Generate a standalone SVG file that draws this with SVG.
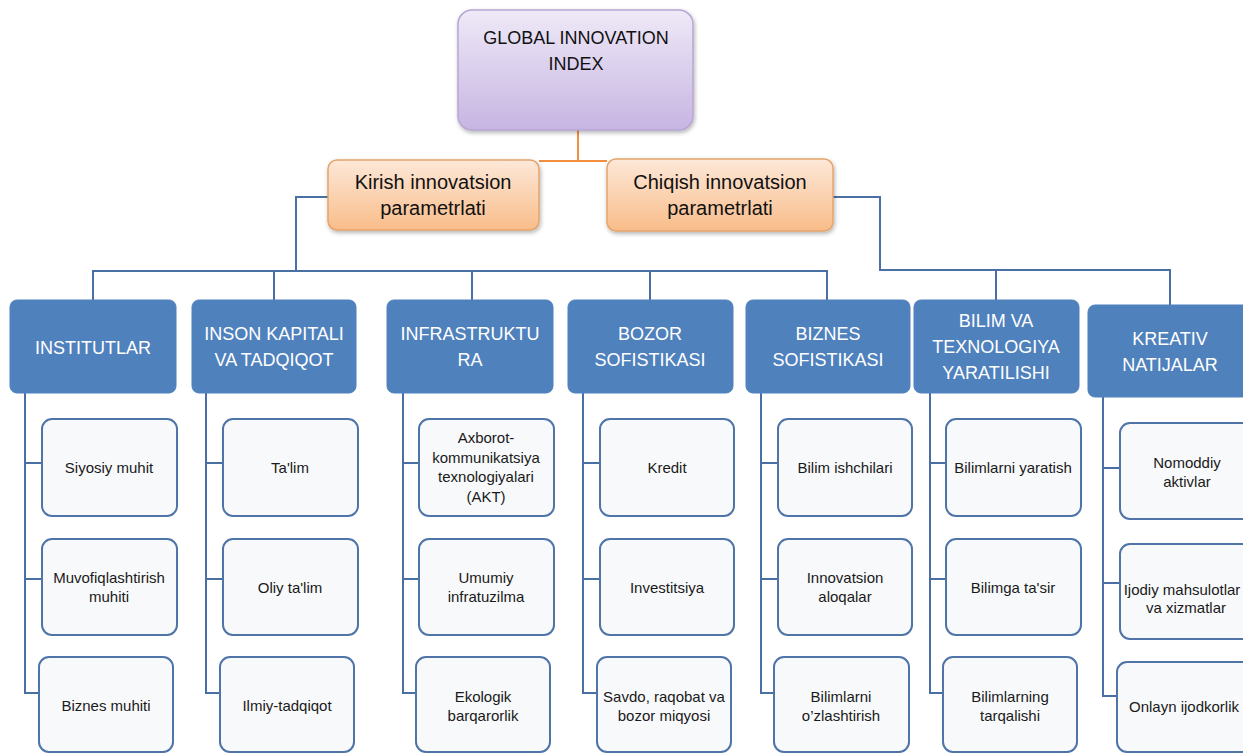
<svg xmlns="http://www.w3.org/2000/svg" width="1243" height="753" viewBox="0 0 1243 753">
<defs>
<linearGradient id="gPurple" x1="0" y1="0" x2="0" y2="1">
<stop offset="0" stop-color="#efe9f7"/>
<stop offset="1" stop-color="#c6b5e2"/>
</linearGradient>
<linearGradient id="gOrange" x1="0" y1="0" x2="0" y2="1">
<stop offset="0" stop-color="#fde8d8"/>
<stop offset="1" stop-color="#f9bd8a"/>
</linearGradient>
<filter id="sh" x="-10%" y="-10%" width="125%" height="130%">
<feDropShadow dx="1" dy="2" stdDeviation="2" flood-color="#000" flood-opacity="0.3"/>
</filter>
<style>
.top{fill:url(#gPurple);stroke:#b7a6d3;stroke-width:1.5;filter:url(#sh)}
.mid{fill:url(#gOrange);stroke:#e5a46d;stroke-width:1.5;filter:url(#sh)}
.hdr{fill:#4f81bd;stroke:#4f81bd;stroke-width:1}
.ch{fill:#f8f9fb;stroke:#4f74a8;stroke-width:2}
.t{font-family:"Liberation Sans",Arial,sans-serif;text-anchor:middle;fill:#111}
.t18{font-size:18px}
.t20{font-size:20px}
.th{font-family:"Liberation Sans",Arial,sans-serif;text-anchor:middle;fill:#fff;font-size:18px}
.tc{font-family:"Liberation Sans",Arial,sans-serif;text-anchor:middle;fill:#1a1a1a;font-size:15px}
.ln{fill:none;stroke:#4a6fa5;stroke-width:2}
.lo{fill:none;stroke:#f38d3f;stroke-width:2}
</style>
</defs>
<rect width="1243" height="753" fill="#fff"/>

<g id="connectors">
<polyline class="lo" points="578,130 578,161"/>
<polyline class="lo" points="539,161 607,161"/>
<polyline class="ln" points="328,197 296,197 296,271"/>
<polyline class="ln" points="93,300 93,271 827,271 827,300"/>
<polyline class="ln" points="274,271 274,300"/>
<polyline class="ln" points="472,271 472,300"/>
<polyline class="ln" points="650,271 650,300"/>
<polyline class="ln" points="833,197 880,197 880,270 1170,270 1170,305"/>
<polyline class="ln" points="996,270 996,300"/>
<polyline class="ln" points="25,393 25,693 39,693"/>
<polyline class="ln" points="25,463 42,463"/>
<polyline class="ln" points="25,579 42,579"/>
<polyline class="ln" points="206,393 206,693 220,693"/>
<polyline class="ln" points="206,463 223,463"/>
<polyline class="ln" points="206,579 223,579"/>
<polyline class="ln" points="403,393 403,693 416,693"/>
<polyline class="ln" points="403,463 419,463"/>
<polyline class="ln" points="403,579 419,579"/>
<polyline class="ln" points="583,393 583,693 597,693"/>
<polyline class="ln" points="583,463 600,463"/>
<polyline class="ln" points="583,579 600,579"/>
<polyline class="ln" points="761,393 761,693 774,693"/>
<polyline class="ln" points="761,463 778,463"/>
<polyline class="ln" points="761,579 778,579"/>
<polyline class="ln" points="930,393 930,693 943,693"/>
<polyline class="ln" points="930,463 946,463"/>
<polyline class="ln" points="930,579 946,579"/>
<polyline class="ln" points="1103,397 1103,696 1117,696"/>
<polyline class="ln" points="1103,468 1120,468"/>
<polyline class="ln" points="1103,583 1120,583"/>
</g>

<g id="gii">
<rect class="top" x="458" y="10" width="235" height="120" rx="14"/>
<text class="t t18" x="576" y="44">GLOBAL INNOVATION</text>
<text class="t t18" x="576" y="70">INDEX</text>
</g>
<g id="kirish">
<rect class="mid" x="328" y="160" width="211" height="70" rx="9"/>
<text class="t t20" x="433" y="189">Kirish innovatsion</text>
<text class="t t20" x="433" y="215">parametrlati</text>
</g>
<g id="chiqish">
<rect class="mid" x="607" y="159" width="226" height="72" rx="9"/>
<text class="t t20" x="720" y="189">Chiqish innovatsion</text>
<text class="t t20" x="720" y="215">parametrlati</text>
</g>

<g id="institutlar">
<rect class="hdr" x="10" y="300" width="166" height="93" rx="7"/>
<text class="th" x="93" y="354">INSTITUTLAR</text>
</g>
<g id="inson">
<rect class="hdr" x="192" y="300" width="164" height="93" rx="7"/>
<text class="th" x="274" y="340">INSON KAPITALI</text>
<text class="th" x="274" y="366">VA TADQIQOT</text>
</g>
<g id="infra">
<rect class="hdr" x="387" y="300" width="166" height="93" rx="7"/>
<text class="th" x="470" y="340">INFRASTRUKTU</text>
<text class="th" x="470" y="366">RA</text>
</g>
<g id="bozor">
<rect class="hdr" x="568" y="300" width="165" height="93" rx="7"/>
<text class="th" x="650" y="340">BOZOR</text>
<text class="th" x="650" y="366">SOFISTIKASI</text>
</g>
<g id="biznes">
<rect class="hdr" x="746" y="300" width="164" height="93" rx="7"/>
<text class="th" x="828" y="340">BIZNES</text>
<text class="th" x="828" y="366">SOFISTIKASI</text>
</g>
<g id="bilim">
<rect class="hdr" x="914" y="300" width="165" height="93" rx="7"/>
<text class="th" x="996" y="327">BILIM VA</text>
<text class="th" x="996" y="353">TEXNOLOGIYA</text>
<text class="th" x="996" y="379">YARATILISHI</text>
</g>
<g id="kreativ">
<rect class="hdr" x="1088" y="305" width="166" height="92" rx="7"/>
<text class="th" x="1170" y="345">KREATIV</text>
<text class="th" x="1170" y="371">NATIJALAR</text>
</g>

<g id="c1-1"><rect class="ch" x="42" y="419" width="135" height="97" rx="10"/><text class="tc" x="109" y="473">Siyosiy muhit</text></g>
<g id="c1-2"><rect class="ch" x="42" y="539" width="135" height="96" rx="10"/><text class="tc" x="109" y="583">Muvofiqlashtirish</text><text class="tc" x="109" y="602">muhiti</text></g>
<g id="c1-3"><rect class="ch" x="39" y="657" width="134" height="95" rx="10"/><text class="tc" x="106" y="711">Biznes muhiti</text></g>

<g id="c2-1"><rect class="ch" x="223" y="419" width="135" height="97" rx="10"/><text class="tc" x="290" y="473">Ta'lim</text></g>
<g id="c2-2"><rect class="ch" x="223" y="539" width="135" height="96" rx="10"/><text class="tc" x="290" y="593">Oliy ta'lim</text></g>
<g id="c2-3"><rect class="ch" x="220" y="657" width="134" height="95" rx="10"/><text class="tc" x="287" y="711">Ilmiy-tadqiqot</text></g>

<g id="c3-1"><rect class="ch" x="419" y="419" width="135" height="97" rx="10"/><text class="tc" x="486" y="443">Axborot-</text><text class="tc" x="486" y="463">kommunikatsiya</text><text class="tc" x="486" y="482">texnologiyalari</text><text class="tc" x="486" y="502">(AKT)</text></g>
<g id="c3-2"><rect class="ch" x="419" y="539" width="135" height="96" rx="10"/><text class="tc" x="486" y="583">Umumiy</text><text class="tc" x="486" y="602">infratuzilma</text></g>
<g id="c3-3"><rect class="ch" x="416" y="657" width="134" height="95" rx="10"/><text class="tc" x="483" y="702">Ekologik</text><text class="tc" x="483" y="721">barqarorlik</text></g>

<g id="c4-1"><rect class="ch" x="600" y="419" width="134" height="97" rx="10"/><text class="tc" x="667" y="473">Kredit</text></g>
<g id="c4-2"><rect class="ch" x="600" y="539" width="134" height="96" rx="10"/><text class="tc" x="667" y="593">Investitsiya</text></g>
<g id="c4-3"><rect class="ch" x="597" y="657" width="134" height="95" rx="10"/><text class="tc" x="664" y="702">Savdo, raqobat va</text><text class="tc" x="664" y="721">bozor miqyosi</text></g>

<g id="c5-1"><rect class="ch" x="778" y="419" width="134" height="97" rx="10"/><text class="tc" x="845" y="473">Bilim ishchilari</text></g>
<g id="c5-2"><rect class="ch" x="778" y="539" width="134" height="96" rx="10"/><text class="tc" x="845" y="583">Innovatsion</text><text class="tc" x="845" y="602">aloqalar</text></g>
<g id="c5-3"><rect class="ch" x="774" y="657" width="135" height="95" rx="10"/><text class="tc" x="841" y="702">Bilimlarni</text><text class="tc" x="841" y="721">o’zlashtirish</text></g>

<g id="c6-1"><rect class="ch" x="946" y="419" width="135" height="97" rx="10"/><text class="tc" x="1013" y="473">Bilimlarni yaratish</text></g>
<g id="c6-2"><rect class="ch" x="946" y="539" width="135" height="96" rx="10"/><text class="tc" x="1013" y="593">Bilimga ta'sir</text></g>
<g id="c6-3"><rect class="ch" x="943" y="657" width="134" height="95" rx="10"/><text class="tc" x="1010" y="702">Bilimlarning</text><text class="tc" x="1010" y="721">tarqalishi</text></g>

<g id="c7-1"><rect class="ch" x="1120" y="423" width="135" height="96" rx="10"/><text class="tc" x="1187" y="468">Nomoddiy</text><text class="tc" x="1187" y="487">aktivlar</text></g>
<g id="c7-2"><rect class="ch" x="1120" y="544" width="135" height="95" rx="10"/><text class="tc" x="1182" y="595">Ijodiy mahsulotlar</text><text class="tc" x="1186" y="613">va xizmatlar</text></g>
<g id="c7-3"><rect class="ch" x="1117" y="662" width="135" height="90" rx="10"/><text class="tc" x="1184" y="712">Onlayn ijodkorlik</text></g>
</svg>
